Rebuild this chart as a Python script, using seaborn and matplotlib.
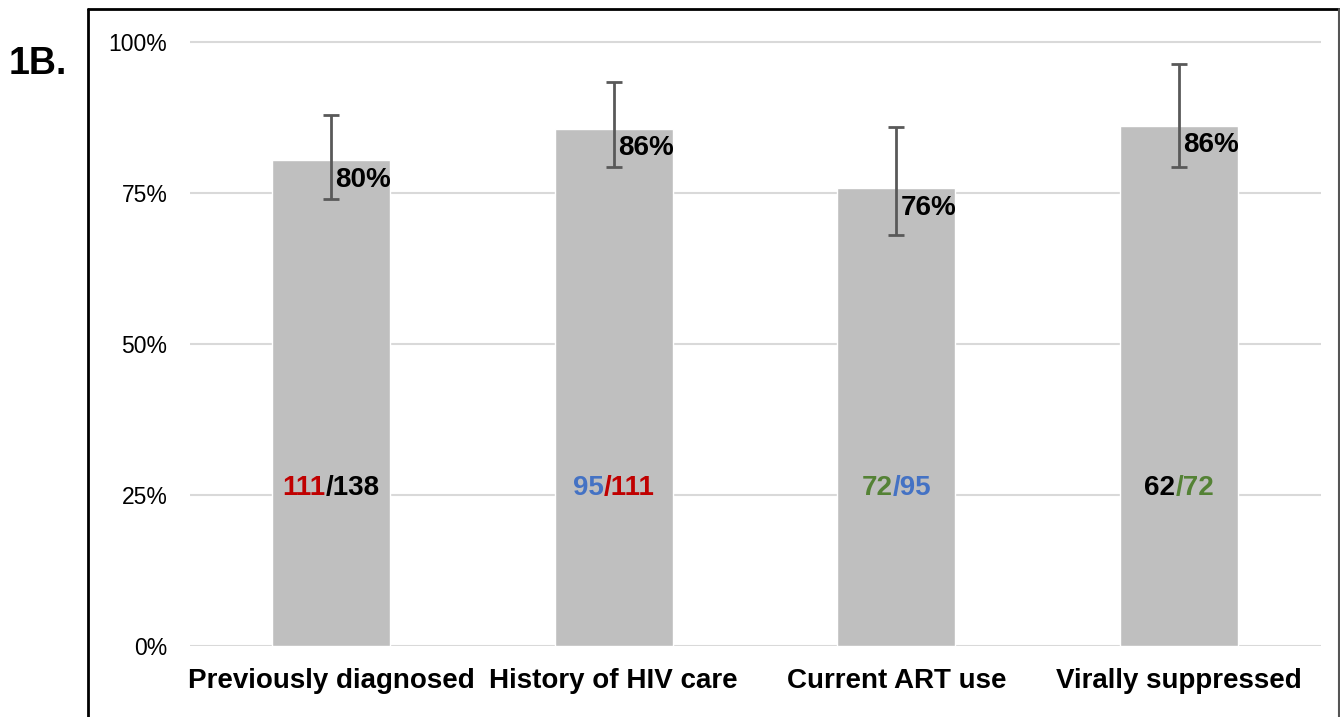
import seaborn as sns
import pandas as pd
import numpy as np
import matplotlib.pyplot as plt
from matplotlib.lines import Line2D

# values
categories = ['Previously diagnosed', 'History of HIV care', 'Current ART use', 'Virally suppressed']
pct = [80.4, 85.6, 75.8, 86.1]
ci_low = [74.0, 79.3, 68.0, 79.3]
ci_high = [87.9, 93.3, 86.0, 96.3]
pct_labels = ['80%', '86%', '76%', '86%']
numerators = ['111', '95', '72', '62']
denominators = ['138', '111', '95', '72']
num_colors = ['#C00000', '#4472C4', '#548235', 'black']
den_colors = ['black', '#C00000', '#4472C4', '#548235']

df = pd.DataFrame({'cat': categories, 'pct': pct})

sns.set_style('white')
plt.rcParams['font.family'] = ['Liberation Sans', 'DejaVu Sans']
plt.rcParams['text.color'] = 'black'
plt.rcParams['xtick.color'] = 'black'
plt.rcParams['ytick.color'] = 'black'

W, H = 1340, 717
fig = plt.figure(figsize=(W / 100, H / 100), dpi=100)
ax = fig.add_axes([189.5 / W, 1 - 646 / H, 1131 / W, (646 - 39) / H])

sns.barplot(data=df, x='cat', y='pct', color='#BFBFBF', saturation=1,
            width=0.417, ax=ax, zorder=2)

xs = np.arange(len(categories))
yerr = [np.array(pct) - np.array(ci_low), np.array(ci_high) - np.array(pct)]
ax.errorbar(xs, pct, yerr=yerr, fmt='none', ecolor='#595959', elinewidth=2,
            capsize=6, capthick=2, zorder=3)

ax.set_ylim(0, 100.5)
ax.set_xlim(-0.5, 3.5)
ax.set_yticks([0, 25, 50, 75, 100])
ax.set_yticklabels(['0%', '25%', '50%', '75%', '100%'], fontsize=16.5, color='black')
ax.yaxis.grid(True, color='#D9D9D9', lw=1.5, zorder=0)
ax.set_axisbelow(True)
ax.tick_params(axis='y', length=0, pad=16)
ax.tick_params(axis='x', length=0, pad=16)
for lbl in ax.get_xticklabels():
    lbl.set_fontsize(20)
    lbl.set_fontweight('bold')
    lbl.set_color('black')
ax.set_xlabel('')
ax.set_ylabel('')
for s in ax.spines.values():
    s.set_visible(False)

for i in range(len(categories)):
    ax.annotate(pct_labels[i], (xs[i], pct[i]), xytext=(3, -14),
                textcoords='offset points', ha='left', va='center',
                fontsize=20, fontweight='bold', color='black', zorder=4)
    # two-colour fraction label, centred on bar
    t1 = ax.annotate(numerators[i], (xs[i], 25), xytext=(0, 5), textcoords='offset points',
                     ha='left', va='center', fontsize=20, fontweight='bold', color=num_colors[i])
    t2 = ax.annotate('/' + denominators[i], (xs[i], 25), xytext=(0, 5), textcoords='offset points',
                     ha='left', va='center', fontsize=20, fontweight='bold', color=den_colors[i])
    fig.canvas.draw()
    r = fig.canvas.get_renderer()
    w1 = t1.get_window_extent(r).width
    w2 = t2.get_window_extent(r).width
    tot = (w1 + w2) * 72 / fig.dpi
    t1.xyann = (-tot / 2, 5)
    t2.xyann = (-tot / 2 + w1 * 72 / fig.dpi, 5)

fig.text(38 / W, 1 - 64 / H, '1B.', fontsize=27, fontweight='bold',
         ha='center', va='center', color='black')

# outer frame
fig.add_artist(Line2D([88 / W, 88 / W], [-0.01, 1 - 9 / H], color='black', lw=2,
                      transform=fig.transFigure))
fig.add_artist(Line2D([88 / W, 1339 / W], [1 - 9 / H, 1 - 9 / H], color='black', lw=2,
                      transform=fig.transFigure))
fig.add_artist(Line2D([1339 / W, 1339 / W], [-0.01, 1 - 9 / H], color='#555555', lw=1.5,
                      transform=fig.transFigure))

fig.savefig('out.png', dpi=100)
